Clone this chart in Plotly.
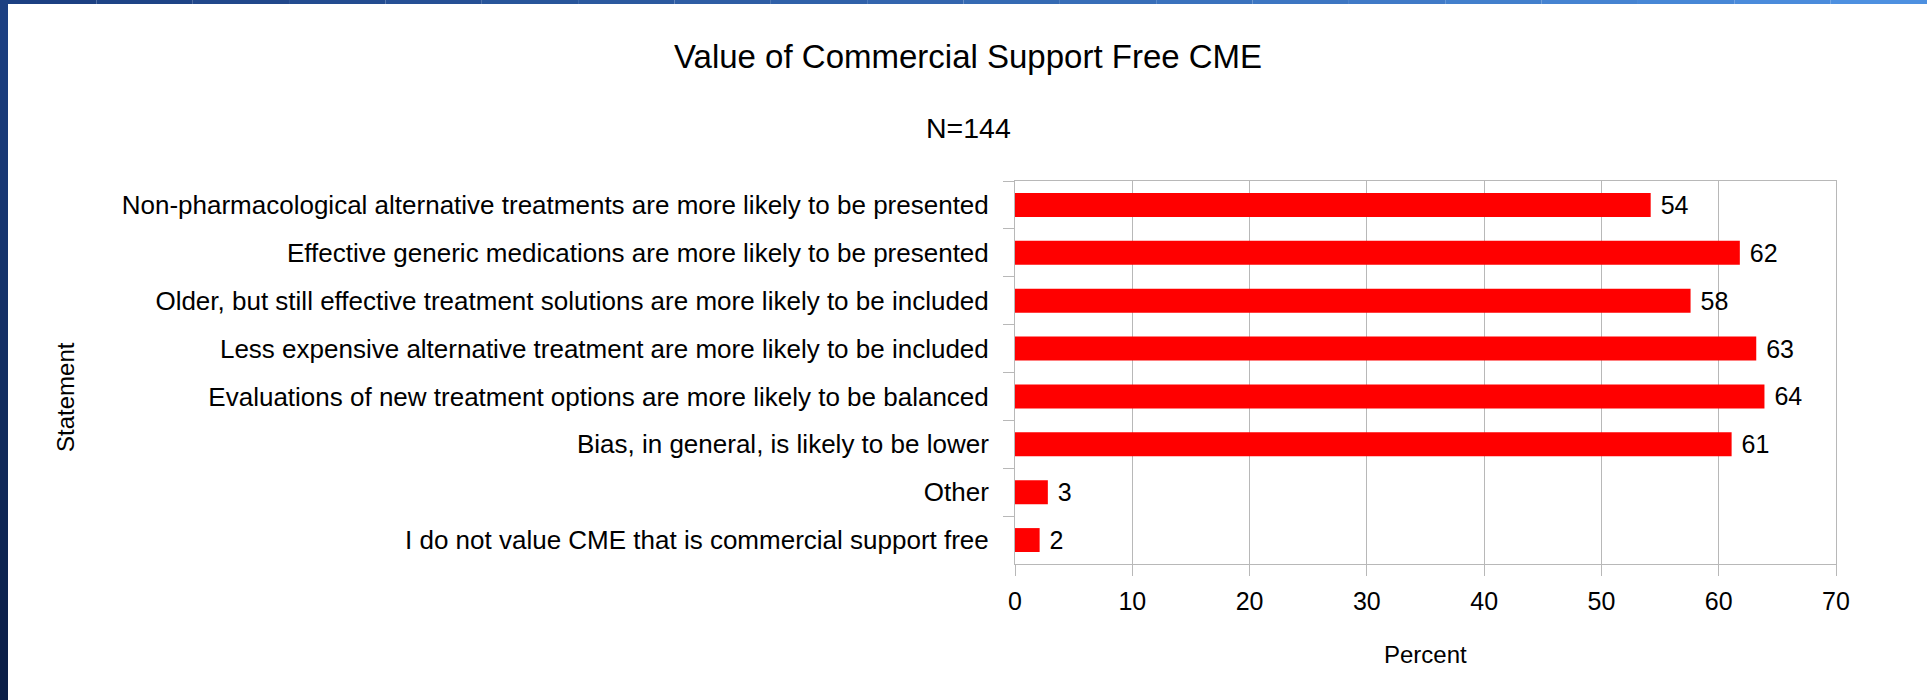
import plotly.graph_objects as go

# ---------------- data ----------------
statements = [
    "Non-pharmacological alternative treatments are more likely to be presented",
    "Effective generic medications are more likely to be presented",
    "Older, but still effective treatment solutions are more likely to be included",
    "Less expensive alternative treatment are more likely to be included",
    "Evaluations of new treatment options are more likely to be balanced",
    "Bias, in general, is likely to be lower",
    "Other",
    "I do not value CME that is commercial support free",
]
percent = [54.2, 61.8, 57.6, 63.2, 63.9, 61.1, 2.8, 2.1]
x_ticks = [0, 10, 20, 30, 40, 50, 60, 70]

title_text = "Value of Commercial Support Free CME"
subtitle_text = "N=144"
x_title = "Percent"
y_title = "Statement"

# ---------------- layout geometry ----------------
W, H = 1927, 700
ML, MR, MT, MB = 1015, 91, 181, 136
PW, PH = W - ML - MR, H - MT - MB

def px_x(p):
    return (p - ML) / PW

def px_y(p):
    return (H - MB - p) / PH

FONT = "Liberation Sans, Arial, sans-serif"
GRID = "#b8b8b8"

fig = go.Figure()
fig.add_trace(go.Bar(
    x=percent,
    y=statements,
    orientation="h",
    marker=dict(color="#ff0000", line=dict(width=0)),
    text=[" %d" % round(v) for v in percent],
    textposition="outside",
    constraintext="none",
    textfont=dict(color="black", size=25, family=FONT),
    outsidetextfont=dict(color="black", size=25, family=FONT),
    cliponaxis=False,
    hoverinfo="x+y",
))

shapes = []
# left blue strip (gradient approximated)
n = 14
c_top = (0x1c, 0x40, 0x82)
c_bot = (0x0b, 0x1f, 0x47)
for i in range(n):
    t = i / (n - 1)
    c = tuple(int(c_top[k] + (c_bot[k] - c_top[k]) * t) for k in range(3))
    shapes.append(dict(type="rect", xref="paper", yref="paper",
                       x0=px_x(0), x1=px_x(8),
                       y0=px_y(H * (i + 1) / n), y1=px_y(H * i / n),
                       fillcolor="rgb(%d,%d,%d)" % c, line=dict(width=0), layer="above"))
# top blue strip (gradient approximated)
m = 20
c_l = (0x1c, 0x40, 0x82)
c_r = (0x4d, 0x90, 0xe0)
for i in range(m):
    t = i / (m - 1)
    c = tuple(int(c_l[k] + (c_r[k] - c_l[k]) * t) for k in range(3))
    shapes.append(dict(type="rect", xref="paper", yref="paper",
                       x0=px_x(W * i / m), x1=px_x(W * (i + 1) / m),
                       y0=px_y(4), y1=px_y(0),
                       fillcolor="rgb(%d,%d,%d)" % c, line=dict(width=0), layer="above"))

annotations = [
    dict(text=title_text, xref="paper", yref="paper", x=px_x(968), y=px_y(57),
         xanchor="center", yanchor="middle", showarrow=False,
         font=dict(size=33, color="black", family=FONT)),
    dict(text=subtitle_text, xref="paper", yref="paper", x=px_x(968), y=px_y(128),
         xanchor="center", yanchor="middle", showarrow=False,
         font=dict(size=28.5, color="black", family=FONT)),
    dict(text=x_title, xref="paper", yref="paper", x=0.5, y=px_y(654),
         xanchor="center", yanchor="middle", showarrow=False,
         font=dict(size=24, color="black", family=FONT)),
    dict(text=y_title, xref="paper", yref="paper", x=px_x(65), y=px_y(397),
         xanchor="center", yanchor="middle", showarrow=False, textangle=-90,
         font=dict(size=24, color="black", family=FONT)),
]

fig.update_layout(
    width=W, height=H,
    margin=dict(l=ML, r=MR, t=MT, b=MB, pad=0),
    paper_bgcolor="white", plot_bgcolor="white",
    showlegend=False,
    bargap=0.5,
    font=dict(family=FONT, color="black"),
    shapes=shapes,
    annotations=annotations,
    xaxis=dict(
        range=[0, 70], tickvals=x_ticks, ticktext=[str(v) for v in x_ticks],
        showgrid=True, gridcolor=GRID, gridwidth=1,
        showline=True, linecolor=GRID, linewidth=1, mirror=True,
        ticks="outside", ticklen=11, tickcolor=GRID, tickwidth=1,
        ticklabelstandoff=4,
        tickfont=dict(size=25, color="black", family=FONT),
        zeroline=False, fixedrange=True,
    ),
    yaxis=dict(
        categoryorder="array", categoryarray=statements, autorange="reversed",
        showgrid=False,
        showline=True, linecolor=GRID, linewidth=1, mirror=True,
        ticks="outside", ticklen=11, tickcolor=GRID, tickwidth=1,
        tickson="boundaries",
        ticklabelstandoff=20,
        tickfont=dict(size=26, color="black", family=FONT),
        zeroline=False, fixedrange=True,
    ),
)

fig.write_html("out.html", config={"displayModeBar": False},
               post_script="document.body.style.margin='0';")
